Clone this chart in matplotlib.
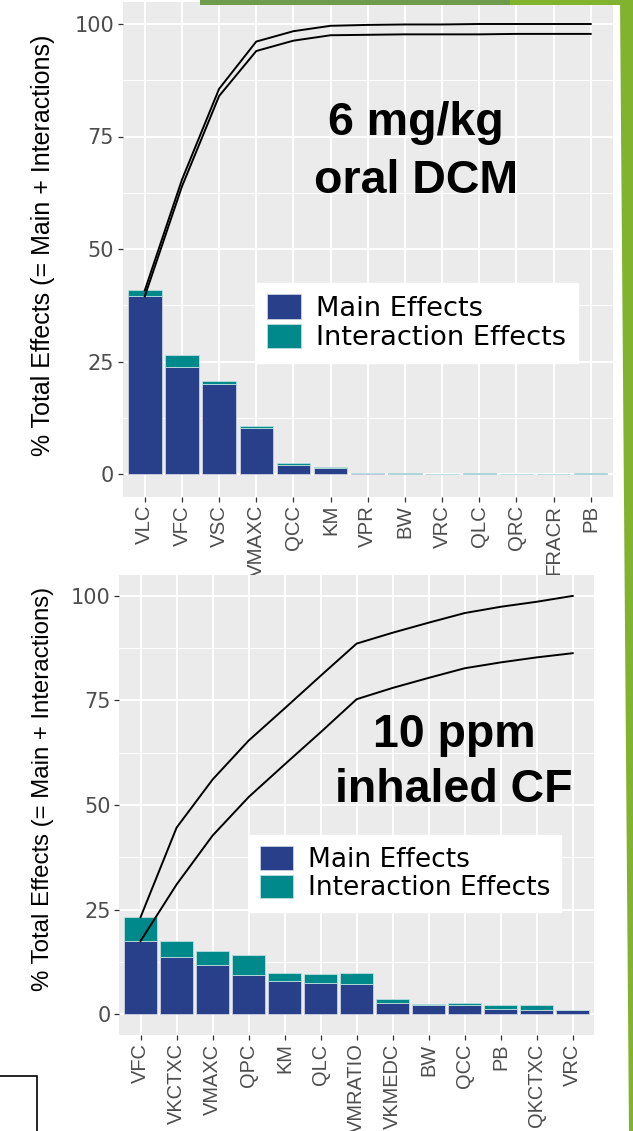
import matplotlib
matplotlib.use('Agg')
import matplotlib.pyplot as plt
from matplotlib import font_manager
from matplotlib.patches import Rectangle, Polygon
import numpy as np

# ---------------- data ----------------
top_params = ['VLC', 'VFC', 'VSC', 'VMAXC', 'QCC', 'KM', 'VPR', 'BW', 'VRC', 'QLC', 'QRC', 'FRACR', 'PB']
top_main = [39.5, 23.7, 20.1, 10.3, 2.0, 1.3, 0.15, 0.1, 0.08, 0.05, 0.02, 0.02, 0.02]
top_total = [40.8, 26.5, 20.7, 10.7, 2.5, 1.5, 0.3, 0.25, 0.1, 0.3, 0.05, 0.05, 0.15]
top_cum_total = [40.8, 65.4, 85.6, 96.1, 98.4, 99.6, 99.8, 99.9, 99.9, 100, 100, 100, 100]
top_cum_main = [39.5, 63.9, 84.0, 94.0, 96.3, 97.5, 97.6, 97.7, 97.7, 97.7, 97.8, 97.8, 97.8]

bot_params = ['VFC', 'VKCTXC', 'VMAXC', 'QPC', 'KM', 'QLC', 'VMRATIO', 'VKMEDC', 'BW', 'QCC', 'PB', 'QKCTXC', 'VRC']
bot_main = [17.5, 13.6, 11.7, 9.3, 7.8, 7.5, 7.1, 2.6, 2.2, 2.1, 1.2, 1.05, 0.9]
bot_total = [23.2, 17.5, 15.1, 14.2, 9.9, 9.5, 9.9, 3.6, 2.5, 2.6, 2.2, 2.2, 0.9]
bot_cum_total = [23.2, 44.6, 56.1, 65.4, 73.1, 80.9, 88.6, 91.2, 93.6, 95.9, 97.4, 98.6, 100]
bot_cum_main = [17.5, 31.0, 42.7, 51.9, 59.7, 67.4, 75.3, 78.0, 80.4, 82.7, 84.1, 85.3, 86.3]

y_ticks = [0, 25, 50, 75, 100]
legend_labels = ['Main Effects', 'Interaction Effects']
top_title = ['6 mg/kg', 'oral DCM']
bot_title = ['10 ppm', 'inhaled CF']
ylabel_text = '% Total Effects (= Main + Interactions)'

# ---------------- style ----------------
MAIN = '#283F8A'
INTER = '#00898A'
PANEL = '#EBEBEB'
TXT = '#4D4D4D'

names = {f.name for f in font_manager.fontManager.ttflist}
if 'Liberation Sans Narrow' in names:
    NARROW = 'Liberation Sans Narrow'
    xt_size, yl_size = 17.8, 21.8
else:
    NARROW = 'Liberation Sans'
    xt_size, yl_size = 14.7, 18.0

W, H = 633, 1131
fig = plt.figure(figsize=(W / 100, H / 100), dpi=100)
fig.patch.set_facecolor('white')


def fx(px):
    return px / W


def fy(py):
    return 1 - py / H


def make_panel(box, params, main, total, cum_total, cum_main, leg_xy, leg_fs, title,
               title_x, title_base, ylab_y, xt_fs, ylab_fs):
    l, r, t, b = box
    ax = fig.add_axes([fx(l), fy(b), (r - l) / W, (b - t) / H])
    ax.set_facecolor(PANEL)
    for s in ax.spines.values():
        s.set_visible(False)
    x = np.arange(len(params))
    inter = [tt - mm for tt, mm in zip(total, main)]
    b1 = ax.bar(x, main, width=0.9, color=MAIN, edgecolor='#c9d0e2', linewidth=0.6,
                label=legend_labels[0], zorder=2)
    b2 = ax.bar(x, inter, bottom=main, width=0.9, color=INTER, edgecolor='#b9dede',
                linewidth=0.6, label=legend_labels[1], zorder=2)
    ax.plot(x, cum_total, color='black', lw=1.4, zorder=3)
    ax.plot(x, cum_main, color='black', lw=1.4, zorder=3)
    ax.set_xlim(-0.6, len(params) - 0.4)
    ax.set_ylim(-5, 105)
    ax.set_yticks(y_ticks)
    ax.set_yticks([12.5, 37.5, 62.5, 87.5], minor=True)
    ax.set_xticks(x)
    ax.set_xticklabels(params, rotation=90, fontsize=xt_fs, family=NARROW, color=TXT)
    ax.set_yticklabels([str(v) for v in y_ticks], fontsize=15, family='DejaVu Sans', color=TXT)
    ax.tick_params(axis='both', which='major', length=3.6, width=0.9, color='#333333', pad=2.5)
    ax.tick_params(axis='y', which='minor', length=0)
    ax.grid(which='major', color='white', lw=1.4)
    ax.grid(which='minor', axis='y', color='white', lw=0.7)
    ax.set_axisbelow(True)
    ax.set_ylabel(ylabel_text, fontsize=ylab_fs, family=NARROW, color='black')
    ax.yaxis.label.set_va('center')
    ax.yaxis.set_label_coords((43 - l) / (r - l), (b - ylab_y) / (b - t))
    leg = ax.legend(handles=[b1, b2], loc='upper left',
                    bbox_to_anchor=(fx(leg_xy[0]), fy(leg_xy[1])),
                    bbox_transform=fig.transFigure, borderaxespad=0,
                    frameon=True, fancybox=False, framealpha=1,
                    facecolor='white', edgecolor='white',
                    prop={'family': 'DejaVu Sans', 'size': leg_fs},
                    handlelength=1.25, handleheight=1.0, labelspacing=0.06,
                    handletextpad=0.55, borderpad=0.42)
    leg.set_zorder(5)
    for line, yb in zip(title, title_base):
        fig.text(fx(title_x), fy(yb), line, ha='center', va='baseline',
                 fontsize=33.5, fontweight='bold', family='Liberation Sans', color='black')
    return ax


make_panel((122.5, 613, 1.5, 496.5), top_params, top_main, top_total,
           top_cum_total, top_cum_main, (256, 283), 19.6, top_title, 416, (135, 193), 245,
           xt_size, yl_size)
make_panel((119, 594.3, 575, 1035), bot_params, bot_main, bot_total,
           bot_cum_total, bot_cum_main, (249, 835), 19.0, bot_title, 454, (747, 802), 789,
           xt_size * 0.98, yl_size * 0.96)

# slide decorations
fig.add_artist(Rectangle((fx(200), fy(5)), 310 / W, 5 / H, transform=fig.transFigure,
                         facecolor='#6E9B4C', edgecolor='none', zorder=10))
fig.add_artist(Rectangle((fx(510), fy(5)), 123 / W, 5 / H, transform=fig.transFigure,
                         facecolor='#82B32E', edgecolor='none', zorder=10))
fig.add_artist(Polygon([(fx(620), fy(0)), (fx(633), fy(0)), (fx(633), fy(1131)), (fx(629), fy(1131))],
                       closed=True, transform=fig.transFigure,
                       facecolor='#82B32E', edgecolor='none', zorder=10))
fig.add_artist(Rectangle((fx(-5), fy(1140)), 41.7 / W, 64 / H, transform=fig.transFigure,
                         facecolor='none', edgecolor='black', lw=1.2, zorder=10))

fig.savefig('out.png', dpi=100)
